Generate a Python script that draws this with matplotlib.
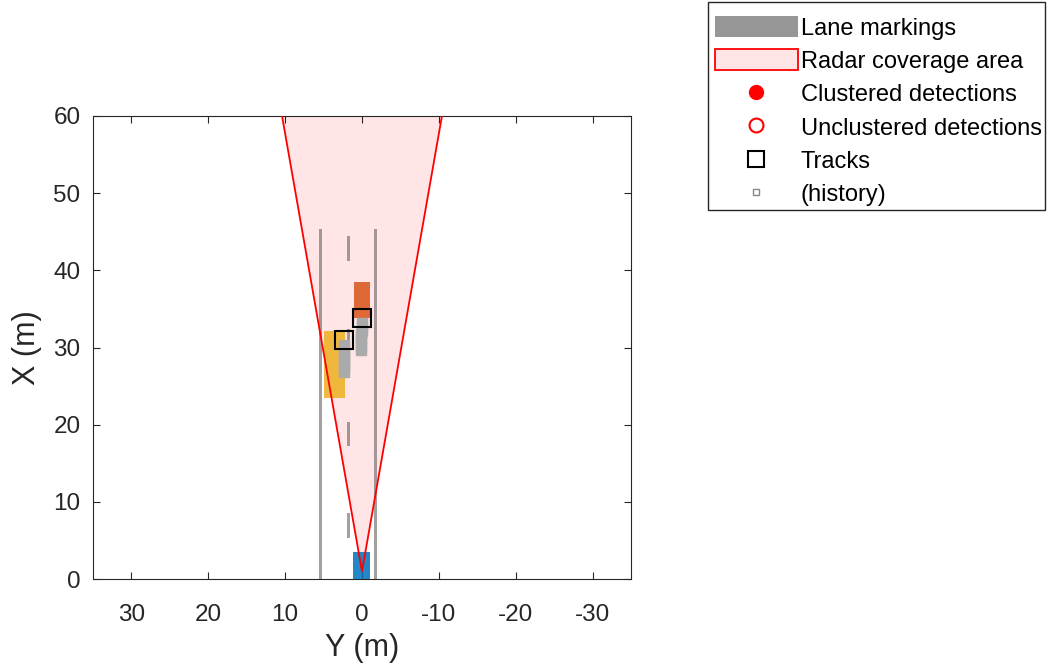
import numpy as np
import matplotlib
matplotlib.use("Agg")
import matplotlib.pyplot as plt
from matplotlib.patches import Rectangle, Polygon, Patch
from matplotlib.lines import Line2D

plt.rcParams['font.family'] = ['Liberation Sans', 'DejaVu Sans']
plt.rcParams['axes.unicode_minus'] = False

# lane markings (Y = lateral, X = longitudinal, metres)
solid_lane_y = [5.4, -1.8]
solid_lane_x = [0.0, 45.4]
dash_lane_y = 1.8
dash_start_x = [5.3, 17.2, 29.2, 41.2]
dash_len = 3.2
marking_width = 0.38

# radar coverage
radar_x = 1.0
radar_fov = 20.0      # degrees
radar_range = 150.0

# vehicles: name, center Y, center X, length, width, colour
veh_names = ['ego', 'lead', 'truck']
veh_y = [0.05, 0.0, 3.6]
veh_x = [1.2, 36.15, 27.8]
veh_len = [4.7, 4.7, 8.6]
veh_wid = [2.2, 2.1, 2.7]
veh_col = ['#0072BD', '#D95319', '#EDB120']

# tracks and their history
track_y = [2.35, 0.05]
track_x = [31.0, 33.8]
hist1_y = [2.4, 2.4, 2.4, 2.4, 2.35, 2.35, 2.35, 2.35]
hist1_x = [26.8, 27.3, 27.8, 28.3, 28.8, 29.3, 29.8, 30.3]
hist2_y = [0.1, 0.1, 0.1, 0.1, 0.1, 0.05, 0.05, 0.05]
hist2_x = [29.7, 30.2, 30.7, 31.2, 31.7, 32.2, 32.7, 33.2]

fig = plt.figure(figsize=(10.49, 6.66), dpi=100)
ax = fig.add_axes([93/1049, 1 - 579/666, 538/1049, 463/666])

# coverage area
half = np.tan(np.radians(radar_fov / 2)) * radar_range
cov = Polygon([[0, radar_x], [half, radar_x + radar_range], [-half, radar_x + radar_range]],
              closed=True, facecolor=(1, 0, 0, 0.1), edgecolor='none', zorder=1)
ax.add_patch(cov)
ax.plot([half, 0, -half], [radar_x + radar_range, radar_x, radar_x + radar_range],
        color='red', lw=1.3, zorder=6)

lane_col = (0.42, 0.4, 0.4, 0.62)
for ly in solid_lane_y:
    ax.add_patch(Rectangle((ly - marking_width/2, solid_lane_x[0]), marking_width,
                           solid_lane_x[1] - solid_lane_x[0], facecolor=lane_col,
                           edgecolor='none', zorder=2))
for sx in dash_start_x:
    ax.add_patch(Rectangle((dash_lane_y - marking_width/2, sx), marking_width, dash_len,
                           facecolor=lane_col, edgecolor='none', zorder=2))

for i in range(len(veh_names)):
    ax.add_patch(Rectangle((veh_y[i] - veh_wid[i]/2, veh_x[i] - veh_len[i]/2),
                           veh_wid[i], veh_len[i], facecolor=veh_col[i], alpha=0.85,
                           edgecolor='none', zorder=3))

for hy, hx in [(hist1_y, hist1_x), (hist2_y, hist2_x)]:
    ax.plot(hy, hx, ls='none', marker='s', ms=7, mfc='#aaaaaa', mec='#aaaaaa', zorder=4)

ax.plot(track_y, track_x, ls='none', marker='s', ms=13.5, mfc='none', mec='black',
        mew=1.5, zorder=5)

ax.set_xlim(35, -35)
ax.set_ylim(0, 60)
ax.set_xticks([30, 20, 10, 0, -10, -20, -30])
ax.set_yticks([0, 10, 20, 30, 40, 50, 60])
ax.tick_params(direction='in', top=True, right=True, length=5, labelsize=17.5,
               colors='#262626')
ax.tick_params(axis='x', pad=18)
ax.tick_params(axis='y', pad=9)
for s in ax.spines.values():
    s.set_color('#262626')
ax.set_xlabel('Y (m)', fontsize=22, color='#262626', labelpad=5)
ax.set_ylabel('X (m)', fontsize=22, color='#262626', labelpad=8)

# legend box drawn separately so its padding matches the original
fig.patches.append(Rectangle((708/1049, 1 - 210/666), 337/1049, 208/666,
                             transform=fig.transFigure, facecolor='white',
                             edgecolor='#262626', lw=1.0, zorder=0))

handles = [
    Patch(facecolor='#969696', edgecolor='none'),
    Patch(facecolor=(1, 0, 0, 0.1), edgecolor='red', lw=1.3),
    Line2D([], [], ls='none', marker='o', ms=10, mfc='red', mec='red'),
    Line2D([], [], ls='none', marker='o', ms=10, mfc='none', mec='red', mew=1.5),
    Line2D([], [], ls='none', marker='s', ms=11, mfc='none', mec='black', mew=1.5),
    Line2D([], [], ls='none', marker='s', ms=5, mfc='none', mec='#888888', mew=1),
]
labels = ['Lane markings', 'Radar coverage area', 'Clustered detections',
          'Unclustered detections', 'Tracks', '(history)']
leg = fig.legend(handles, labels, loc='upper left', bbox_to_anchor=(715/1049, 1 - 16/666),
                 fontsize=17.0, frameon=False, borderaxespad=0, borderpad=0,
                 handlelength=3.5, handleheight=1.0, handletextpad=0.14,
                 labelspacing=0.41)

fig.savefig('out.png', dpi=100)
